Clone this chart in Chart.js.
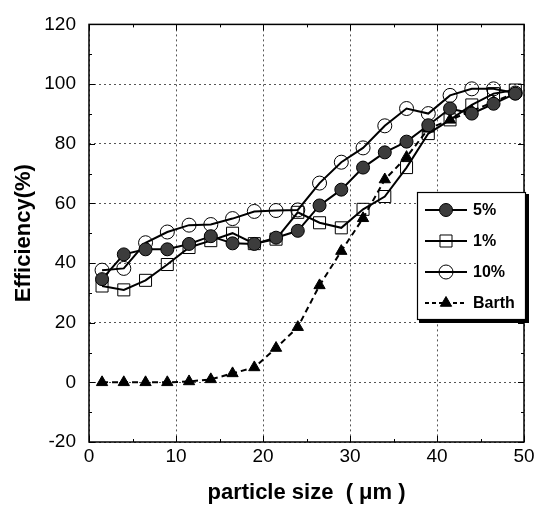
<!DOCTYPE html>
<html>
<head>
<meta charset="utf-8">
<script src="https://cdn.jsdelivr.net/npm/chart.js@4/dist/chart.umd.min.js"></script>
<style>
	html, body { margin: 0; background: #fff; }
	#wrap { width: 547px; height: 510px; }
</style>
</head>
<body>
<div id="wrap"><canvas id="chart"></canvas></div>
<script>
// particle size (um) where every series was sampled
const sizes = [1.5, 4, 6.5, 9, 11.5, 14, 16.5, 19, 21.5, 24, 26.5, 29, 31.5, 34, 36.5, 39, 41.5, 44, 46.5, 49];
const eff5 = [34.6, 42.9, 44.6, 44.6, 46.4, 49, 46.6, 46.4, 48.5, 50.8, 59.3, 64.6, 72, 77.1, 80.7, 86.2, 91.8, 90.1, 93.4, 96.8];
const eff1 = [32.3, 31, 34.2, 39.5, 45.2, 47.5, 50, 46.5, 48, 57, 53.5, 51.8, 58, 62.3, 72, 83.4, 88, 93, 96.8, 98];
const eff10 = [37.6, 38.2, 46.8, 50.4, 52.7, 52.9, 54.9, 57.3, 57.6, 57.8, 66.8, 73.8, 78.6, 86, 91.8, 90.1, 96.2, 98.4, 98.4, 97];
const barth = [0, 0, 0, 0, 0.3, 1, 3, 5, 11.5, 18.5, 32.5, 44, 55, 68, 75.5, 85, 88, 91, 94, 97];

const xTicks = [0, 10, 20, 30, 40, 50];
const yTicks = [-20, 0, 20, 40, 60, 80, 100, 120];

const pts = ys => ys.map((y, i) => ({ x: sizes[i], y }));
const ink = '#000';
const dark = '#3c3c3c';
const hollow = 'rgba(255,255,255,0)';

// inward tick marks + closed frame, drawn on top of the grid
const frame = {
	id: 'frame',
	beforeDatasetsDraw(chart) {
		const { ctx, chartArea: a, scales: { x, y } } = chart;
		ctx.save();
		ctx.strokeStyle = ink;
		ctx.lineWidth = 1;
		for (let v = -20; v <= 120; v += 10) {
			const len = v % 20 === 0 ? 6 : 3;
			const py = Math.round(y.getPixelForValue(v)) + 0.5;
			ctx.beginPath();
			ctx.moveTo(a.left, py); ctx.lineTo(a.left + len, py);
			ctx.moveTo(a.right, py); ctx.lineTo(a.right - len, py);
			ctx.stroke();
		}
		for (let v = 0; v <= 50; v += 5) {
			const len = v % 10 === 0 ? 6 : 3;
			const px = Math.round(x.getPixelForValue(v)) + 0.5;
			ctx.beginPath();
			ctx.moveTo(px, a.bottom); ctx.lineTo(px, a.bottom - len);
			ctx.moveTo(px, a.top); ctx.lineTo(px, a.top + len);
			ctx.stroke();
		}
		ctx.lineWidth = 1.5;
		ctx.strokeRect(a.left, a.top, a.right - a.left, a.bottom - a.top);
		ctx.restore();
	},
	// boxed legend with a heavy drop shadow, inside the plot
	afterDraw(chart) {
		const { ctx } = chart;
		const bx = 417, by = 192, bw = 108, bh = 127;
		ctx.save();
		ctx.fillStyle = '#fff';
		ctx.fillRect(bx, by, bw, bh);
		ctx.fillStyle = ink;
		ctx.fillRect(bx + bw, by + 2, 4, bh + 2);
		ctx.fillRect(bx + 2, by + bh, bw + 2, 4);
		ctx.lineWidth = 1.2;
		ctx.strokeStyle = ink;
		ctx.strokeRect(bx + 0.5, by + 0.5, bw, bh);
		ctx.font = 'bold 16px "Liberation Sans", Arial, sans-serif';
		ctx.textBaseline = 'middle';
		chart.data.datasets.forEach((ds, i) => {
			const ly = by + 18 + i * 31;
			const mx = bx + 29;
			ctx.strokeStyle = ds.borderColor;
			ctx.lineWidth = 2;
			ctx.setLineDash(ds.borderDash ? [4, 3] : []);
			ctx.beginPath();
			ctx.moveTo(bx + 8, ly); ctx.lineTo(bx + 50, ly);
			ctx.stroke();
			ctx.setLineDash([]);
			ctx.fillStyle = ds.pointBackgroundColor;
			ctx.strokeStyle = ds.pointBorderColor;
			ctx.lineWidth = 1;
			ctx.beginPath();
			if (ds.pointStyle === 'circle') ctx.arc(mx, ly, ds.pointRadius, 0, Math.PI * 2);
			else if (ds.pointStyle === 'rect') { const s = ds.pointRadius * Math.SQRT1_2; ctx.rect(mx - s, ly - s, 2 * s, 2 * s); }
			else { const r = ds.pointRadius; ctx.moveTo(mx, ly - r); ctx.lineTo(mx + r * 0.87, ly + r * 0.5); ctx.lineTo(mx - r * 0.87, ly + r * 0.5); ctx.closePath(); }
			ctx.fill(); ctx.stroke();
			ctx.fillStyle = ink;
			ctx.fillText(ds.label, bx + 56, ly + 1);
		});
		ctx.restore();
	},
};

const series = (label, data, style, fill, radius, dash) => ({
	label,
	data: pts(data),
	borderColor: ink,
	borderWidth: 2,
	borderDash: dash,
	pointStyle: style,
	pointRadius: radius,
	pointBackgroundColor: fill,
	pointBorderColor: ink,
	pointBorderWidth: 1,
	tension: 0,
	fill: false,
});

const font = { family: '"Liberation Sans", Arial, sans-serif', size: 19 };
const titleFont = { family: '"Liberation Sans", Arial, sans-serif', size: 22, weight: 'bold' };
const gridDash = { display: false, dash: [2, 3] };

new Chart(document.getElementById('chart'), {
	type: 'line',
	data: {
		datasets: [
			series('5%', eff5, 'circle', dark, 6.5),
			series('1%', eff1, 'rect', hollow, 8.5),
			series('10%', eff10, 'circle', hollow, 7),
			series('Barth', barth, 'triangle', ink, 6.5, [6, 4]),
		],
	},
	options: {
		responsive: true,
		maintainAspectRatio: false,
		animation: false,
		layout: { padding: { top: 22, right: 23, left: 0, bottom: 0 } },
		plugins: { legend: { display: false }, tooltip: { enabled: false } },
		scales: {
			x: {
				type: 'linear',
				min: 0, max: 50,
				afterBuildTicks: s => { s.ticks = xTicks.map(value => ({ value })); },
				afterFit: s => { s.height = 68; },
				ticks: { color: ink, font, padding: 3, maxRotation: 0 },
				grid: { color: '#555', drawTicks: false, lineWidth: 1 },
				border: gridDash,
				title: { display: true, text: 'particle size  ( μm )', color: ink, font: titleFont, padding: { top: 11 } },
			},
			y: {
				min: -20, max: 120,
				afterBuildTicks: s => { s.ticks = yTicks.map(value => ({ value })); },
				afterFit: s => { s.width = 89; },
				ticks: { color: ink, font, padding: 13 },
				grid: { color: '#555', drawTicks: false, lineWidth: 1 },
				border: gridDash,
				title: { display: true, text: 'Efficiency(%)', color: ink, font: titleFont, padding: { top: 11, bottom: 0 } },
			},
		},
	},
	plugins: [frame],
});
</script>
</body>
</html>
